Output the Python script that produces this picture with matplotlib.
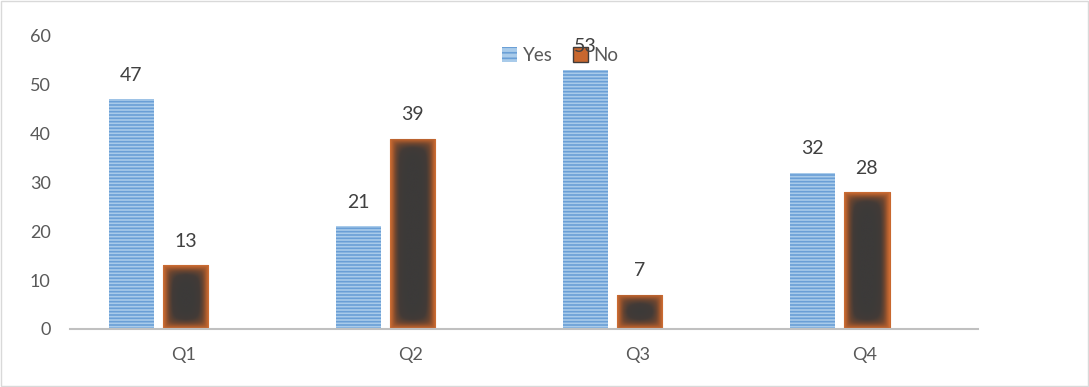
import numpy as np
import matplotlib
matplotlib.use("Agg")
import matplotlib.pyplot as plt
from matplotlib.patches import Rectangle, Patch

categories = ["Q1", "Q2", "Q3", "Q4"]
yes_vals = [47, 21, 53, 32]
no_vals = [13, 39, 7, 28]

plt.rcParams["font.family"] = ["Lato", "DejaVu Sans"]
plt.rcParams["hatch.linewidth"] = 1.2

fig = plt.figure(figsize=(10.89, 3.87), dpi=100)
ax = fig.add_axes([0.0643, 0.150, 0.8338, 0.757])

x = np.arange(len(categories))
w = 0.2
yes_bars = ax.bar(x - 0.23, yes_vals, w, color="#A9CBEA", edgecolor="#6A9FD6",
                  hatch="-----", linewidth=0, zorder=2)
no_bars = ax.bar(x + 0.01, no_vals, w, color="#3F3B3A", edgecolor="#C8672E",
                 linewidth=0.8, zorder=2)

# glow effect on the "No" bars: orange edge fading into dark grey
cmap = matplotlib.colors.LinearSegmentedColormap.from_list(
    "glow", ["#3C3A39", "#433B37", "#6E4630", "#A85A2D", "#CF6E34"])
for b in no_bars:
    bx, by = b.get_x(), b.get_y()
    bw, bh = b.get_width(), b.get_height()
    nx, ny = 60, max(int(bh * 12), 20)
    gx = np.linspace(0, 1, nx)
    gy = np.linspace(0, 1, ny)
    X, Y = np.meshgrid(gx, gy)
    dx = np.minimum(X, 1 - X) * 45
    dy = np.minimum(Y, 1 - Y) * bh * 4.88
    d = np.sqrt(1.0 / (1.0 / (dx + 1e-6) ** 2 + 1.0 / (dy + 1e-6) ** 2))
    z = 1 - np.clip(d / 15.0, 0, 1)
    z = z ** 1.6
    im = ax.imshow(z, extent=[bx, bx + bw, by, by + bh], origin="lower",
                   cmap=cmap, vmin=0, vmax=1, aspect="auto", zorder=3,
                   interpolation="bilinear")
    im.set_clip_path(b)

for bars, vals in [(yes_bars, yes_vals), (no_bars, no_vals)]:
    for b, v in zip(bars, vals):
        ax.text(b.get_x() + b.get_width() / 2, v + 3.2, str(v), ha="center",
                va="bottom", fontsize=14, color="#404040", zorder=1)

ax.set_xlim(-0.5, 3.5)
ax.set_ylim(0, 60)
ax.set_yticks(range(0, 61, 10))
ax.set_xticks(x)
ax.set_xticklabels(categories)
ax.tick_params(axis="both", length=0, labelsize=13, colors="#595959")
ax.tick_params(axis="x", pad=13)
ax.tick_params(axis="y", pad=14)
for s in ["top", "right", "left"]:
    ax.spines[s].set_visible(False)
ax.spines["bottom"].set_color("#C0C0C0")
ax.spines["bottom"].set_linewidth(1.5)
ax.spines["bottom"].set_zorder(4)

handles = [Patch(facecolor="#A9CBEA", edgecolor="#6A9FD6", hatch="---", linewidth=0),
           Patch(facecolor="#C8672E", edgecolor="#3F3B3A", linewidth=1)]
leg = ax.legend(handles, ["Yes", "No"], loc="upper center", ncol=2,
                bbox_to_anchor=(0.54, 1.02), frameon=False, fontsize=13.5,
                handlelength=0.8, handleheight=0.8, handletextpad=0.3,
                columnspacing=1.1)
for t in leg.get_texts():
    t.set_color("#595959")
leg.set_zorder(0)

fig.patches.append(Rectangle((0.001, 0.002), 0.998, 0.996, transform=fig.transFigure,
                             fill=False, edgecolor="#D9D9D9", linewidth=1))

fig.savefig("out.png", dpi=100)
